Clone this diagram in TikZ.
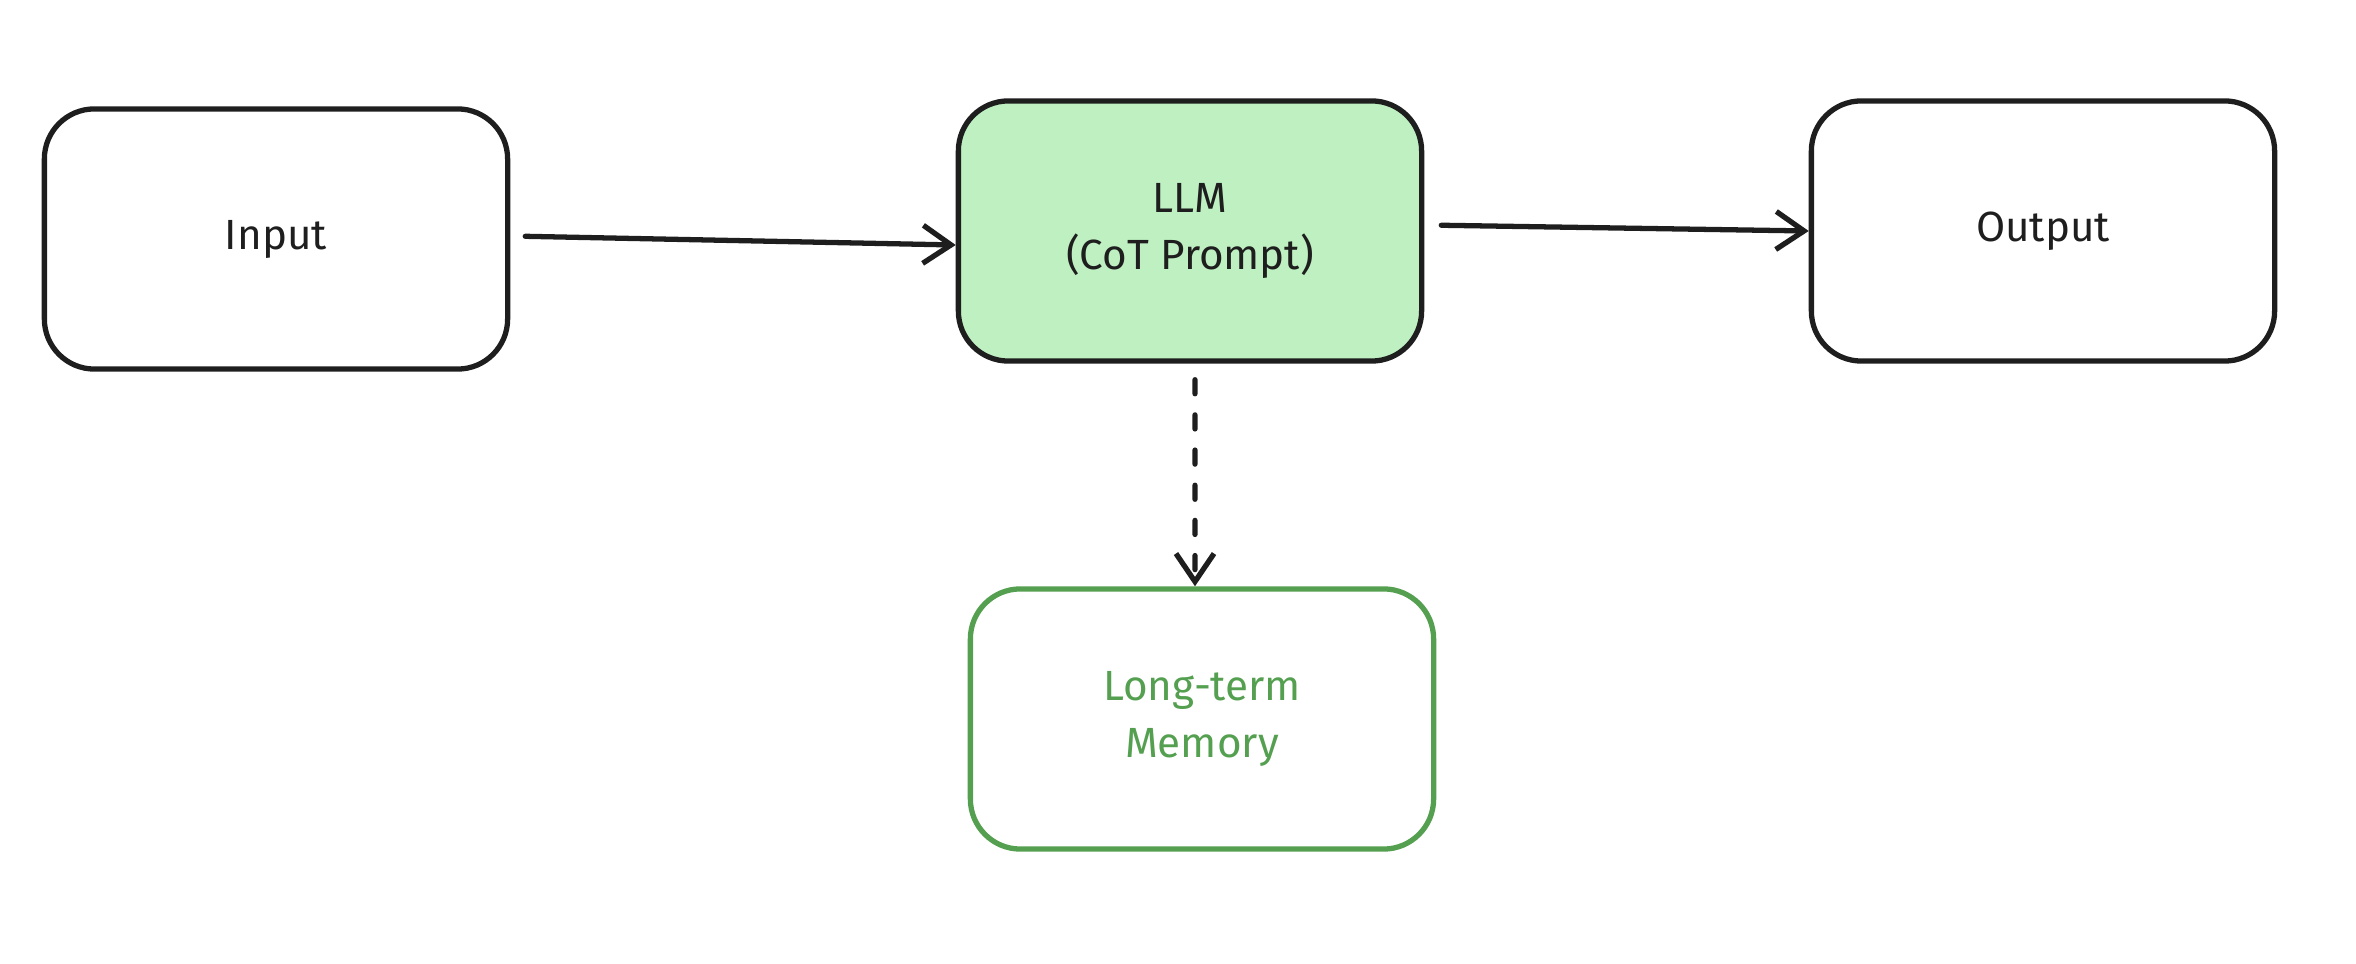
\documentclass[tikz,border=0pt]{standalone}
\usepackage{fontspec}
\setmainfont{Fira Sans}
\usetikzlibrary{arrows.meta}
\definecolor{ink}{RGB}{30,30,30}
\definecolor{leaf}{RGB}{190,240,193}
\definecolor{grn}{RGB}{84,160,80}

\begin{document}
\begin{tikzpicture}[x=0.01cm,y=-0.01cm,
  box/.style={draw=ink, line width=1.5pt, rounded corners=0.5cm,
    minimum width=4.63cm, minimum height=2.6cm, align=center,
    font=\fontsize{12}{16}\selectfont, text=ink},
  arr/.style={draw=ink, line width=1.5pt, line cap=round,
    -{Straight Barb[length=2.8mm,width=3.8mm,line width=1.5pt]}}]
\useasboundingbox (0,0) rectangle (2356,964);

\node[box] (in) at (276,239) {Input};
\node[box, fill=leaf] (llm) at (1190,231) {LLM\\(CoT Prompt)};
\node[box] (out) at (2043,231) {Output};
\node[box, draw=grn, text=grn] (mem) at (1202,719) {Long-term\\Memory};

\draw[arr, shorten <=0.15cm] ([yshift=0.03cm]in.east) -- ([yshift=-0.14cm]llm.west);
\draw[arr, shorten <=0.17cm] ([yshift=0.06cm]llm.east) -- (out.west);
\draw[arr, dash pattern=on 4pt off 6pt, shorten <=0.16cm] ([xshift=0.05cm]llm.south) -- ([xshift=-0.07cm]mem.north);
\end{tikzpicture}
\end{document}
